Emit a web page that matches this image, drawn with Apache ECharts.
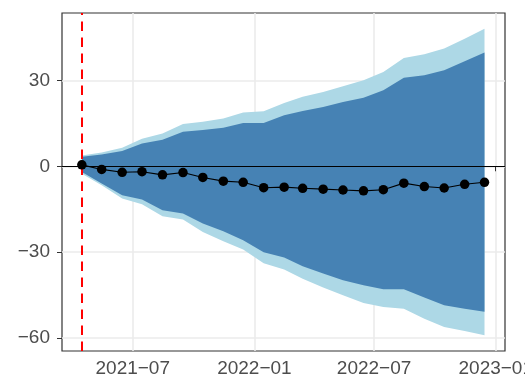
<!DOCTYPE html>
<html>
<head>
<meta charset="utf-8">
<script src="https://cdn.jsdelivr.net/npm/echarts@6.0.0/dist/echarts.min.js"></script>
<style>
html,body{margin:0;padding:0;background:#fff;}
#chart{width:525px;height:383px;}
</style>
</head>
<body>
<div id="chart"></div>
<script>
// ---- data ----
const dates = ['2021-04-15','2021-05-15','2021-06-15','2021-07-15','2021-08-15','2021-09-15','2021-10-15',
  '2021-11-15','2021-12-15','2022-01-15','2022-02-15','2022-03-15','2022-04-15','2022-05-15','2022-06-15',
  '2022-07-15','2022-08-15','2022-09-15','2022-10-15','2022-11-15','2022-12-15'];
const estimate   = [0.5, -1.1, -2.1, -1.9, -3.0, -2.2, -3.9, -5.2, -5.6, -7.5, -7.3, -7.7, -8.0, -8.3, -8.6, -8.2, -5.9, -7.1, -7.6, -6.3, -5.6];
const upperOuter = [3.8, 4.8, 6.5, 9.6, 11.5, 14.8, 15.6, 16.7, 18.8, 19.2, 22.1, 24.3, 26.0, 28.0, 30.1, 33.0, 37.9, 39.2, 41.2, 44.6, 48.1];
const upperInner = [3.3, 4.1, 5.3, 8.0, 9.3, 12.1, 12.7, 13.5, 15.1, 15.1, 17.8, 19.3, 20.7, 22.5, 24.0, 26.6, 31.0, 31.8, 33.6, 36.7, 39.8];
const lowerInner = [-2.0, -6.0, -10.1, -11.6, -15.4, -16.5, -20.0, -22.7, -25.9, -30.1, -31.9, -35.0, -37.5, -39.9, -41.6, -43.0, -43.0, -45.9, -48.6, -49.8, -50.9];
const lowerOuter = [-2.6, -6.6, -11.3, -13.3, -17.5, -18.6, -23.0, -26.2, -29.1, -33.9, -36.1, -39.3, -42.4, -45.1, -47.8, -49.2, -49.8, -53.3, -56.2, -57.6, -59.1];
const xTickDates = ['2021-07-01','2022-01-01','2022-07-01','2023-01-01'];
const yTicks = [-60, -30, 0, 30];
const eventDate = '2021-04-15';

// ---- build (x in days counted from the left edge of the panel) ----
const DAY = 86400000;
const absDay = s => { const p = s.split('-').map(Number); return Date.UTC(p[0], p[1]-1, p[2]) / DAY; };
const ORIGIN = absDay(dates[0]) - 30;              // left padding of the panel
const dayOf = s => absDay(s) - ORIGIN;
const T = dates.map(dayOf);
const X_MAX = T[T.length-1] + 31;                   // right padding of the panel
const pair = arr => arr.map((v,i)=>[T[i], v]);
const minus = s => String(s).replace('-', '\u2212');
const FONT = '"Liberation Sans", Arial, Helvetica, sans-serif';
const LIGHT = '#ADD8E6', DARK = '#4682B4';
const xTickVals = xTickDates.map(dayOf);

function bandSeries(lower, upper, color, z) {
  return {
    type: 'custom', z: z, silent: true,
    data: T.map((t,i)=>[t, lower[i], upper[i]]),
    encode: {x: 0, y: [1, 2]},
    renderItem: function (params, api) {
      if (params.dataIndex !== 0) return null;
      const pts = [];
      for (let i = 0; i < T.length; i++) pts.push(api.coord([T[i], upper[i]]));
      for (let i = T.length - 1; i >= 0; i--) pts.push(api.coord([T[i], lower[i]]));
      return {type: 'polygon', shape: {points: pts}, style: {fill: color, stroke: null}};
    }
  };
}

const chart = echarts.init(document.getElementById('chart'));
chart.setOption({
  animation: false,
  grid: {left: 62, top: 13, width: 443, height: 338, outerBoundsMode: 'none', containLabel: false,
    show: true, borderColor: '#333333', borderWidth: 1.2, backgroundColor: 'transparent'},
  xAxis: {
    type: 'value', min: 0, max: X_MAX, interval: X_MAX / 10,
    axisLine: {show: false},
    axisTick: {show: true, length: 5, lineStyle: {color: '#333333', width: 1}, customValues: xTickVals},
    axisLabel: {customValues: xTickVals, color: '#4D4D4D', fontSize: 19, fontFamily: FONT, margin: 8,
      formatter: v => { const d = new Date(Math.round(v + ORIGIN) * DAY); return d.getUTCFullYear() + '\u2212' + String(d.getUTCMonth()+1).padStart(2,'0'); }},
    splitLine: {show: true, lineStyle: {color: '#EBEBEB', width: 1.6}}
  },
  yAxis: {
    type: 'value', min: -64.6, max: 53.6,
    axisLine: {show: false},
    axisTick: {show: true, length: 5, lineStyle: {color: '#333333', width: 1}, customValues: yTicks},
    axisLabel: {customValues: yTicks, color: '#4D4D4D', fontSize: 19, fontFamily: FONT, margin: 12, formatter: v => minus(v)},
    splitLine: {show: true, lineStyle: {color: '#EBEBEB', width: 1.6}}
  },
  series: [
    bandSeries(lowerOuter, upperOuter, LIGHT, 1),
    bandSeries(lowerInner, upperInner, DARK, 2),
    {type: 'line', name: 'refs', data: [], z: 3, silent: true,
      markLine: {silent: true, symbol: 'none', label: {show: false}, animation: false,
        data: [
          {yAxis: 0, lineStyle: {color: '#000000', width: 1.1, type: 'solid'}},
          {xAxis: dayOf(eventDate), lineStyle: {color: '#FF0000', width: 2, type: [9.5, 6.5]}}
        ]}},
    {type: 'line', name: 'estimate', data: pair(estimate), symbol: 'circle', symbolSize: 9.5,
      itemStyle: {color: '#000000'}, lineStyle: {color: '#000000', width: 1.1}, z: 5, silent: true}
  ]
});
</script>
</body>
</html>
